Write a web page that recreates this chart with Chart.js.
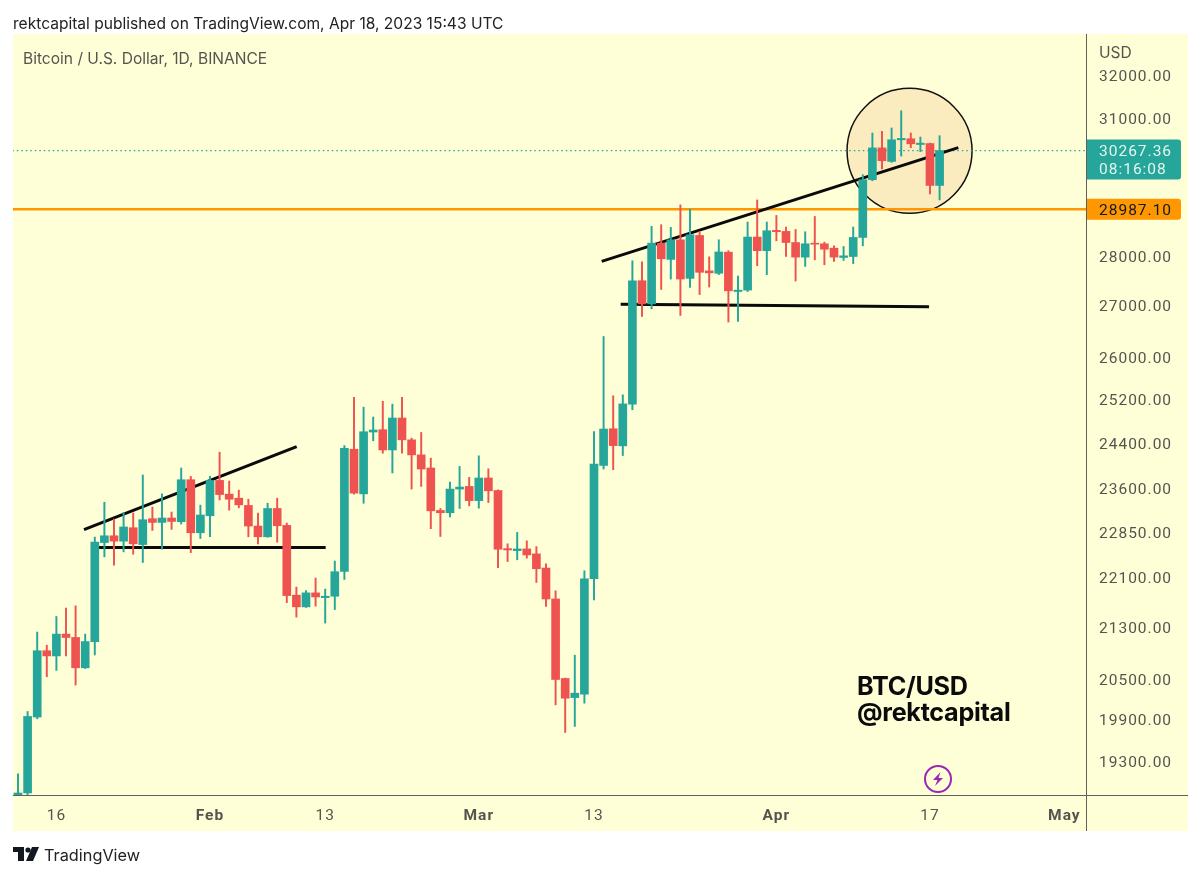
<!DOCTYPE html>
<html>
<head>
<meta charset="utf-8">
<title>BTC/USD</title>
<script src="https://cdn.jsdelivr.net/npm/chart.js@4"></script>
<style>
  html, body { margin: 0; padding: 0; background: #fff; width: 1200px; height: 877px; overflow: hidden; }
  body { font-family: Inter, "Liberation Sans", sans-serif; color: #131722; position: relative; }
  #frame { position: absolute; left: 13px; top: 34px; width: 1175px; height: 797px; background: #fefed7; }
  #mainChart { position: absolute; left: 0; top: 0; }
  .txt { position: absolute; white-space: nowrap; }
  #published { left: 13px; top: 14px; font-size: 15.55px; color: #222; }
  #symbol { left: 23px; top: 49px; font-size: 15.55px; color: #55554f; }
  #currency { left: 1099px; top: 43px; font-size: 15.55px; color: #55554f; }
  #watermark { left: 857px; top: 673px; font-size: 25.2px; line-height: 26px; font-weight: 700; color: #0b0b0b; letter-spacing: -0.3px; }
  #brand { left: 44px; top: 845px; font-size: 16.3px; color: #222; }
  #logo { position: absolute; left: 13px; top: 847px; }
  #bolt { position: absolute; left: 923px; top: 764px; }
  .rule { position: absolute; background: #5f5f5b; }
</style>
</head>
<body>
<div id="frame"></div>
<canvas id="mainChart" width="1200" height="877"></canvas>
<div class="rule" style="left:1086px;top:34px;width:1px;height:797px"></div>
<div class="rule" style="left:13px;top:795px;width:1175px;height:1px"></div>
<div class="txt" id="published">rektcapital published on TradingView.com, Apr 18, 2023 15:43 UTC</div>
<div class="txt" id="symbol">Bitcoin / U.S. Dollar, 1D, BINANCE</div>
<div class="txt" id="currency">USD</div>
<div class="txt" id="watermark">BTC/USD<br>@rektcapital</div>
<svg id="logo" width="26" height="14" viewBox="0 0 26 14">
  <path d="M0 0h11v14H5V5H0z M13 14l6-14h7l-6 14z" fill="#131722"/>
  <circle cx="15" cy="3" r="2.6" fill="#131722"/>
</svg>
<div class="txt" id="brand">TradingView</div>
<svg id="bolt" width="30" height="30" viewBox="0 0 30 30">
  <circle cx="15" cy="15" r="13" fill="none" stroke="#9c27b0" stroke-width="2"/>
  <path d="M17.5 8L10 16h4.5l-2.5 6L20 14h-4.5z" fill="#9c27b0"/>
</svg>
<script>
const openPrices = [
  17943, 18850, 19935, 20934, 20854, 21192, 21140, 20672, 21076, 22672,
  22785, 22695, 22921, 22638, 23073, 23010, 23085, 23022, 23746, 22836,
  23124, 23734, 23495, 23425, 23300, 22949, 22768, 23248, 22960, 21809,
  21622, 21846, 21770, 21792, 22194, 24286, 23500, 24596, 24638, 24273,
  24851, 24455, 24185, 23952, 23214, 23175, 23583, 23629, 23383, 23776,
  23558, 22570, 22537, 22565, 22483, 22249, 21748, 20510, 20223, 20274,
  22075, 23997, 24655, 24346, 25105, 27498, 27032, 28270, 27933, 28340,
  27545, 28431, 27698, 27649, 28082, 27280, 27308, 28397, 28114, 28537,
  28516, 28283, 27980, 28270, 28256, 28165, 27973, 27993, 28389, 29623,
  30326, 30025, 30508, 30531, 30402, 30424, 29498,
];
const closePrices = [
  18850, 19944, 20934, 20854, 21192, 21139, 20672, 21076, 22678, 22785,
  22695, 22933, 22650, 23056, 23010, 23085, 23027, 23746, 22836, 23136,
  23734, 23488, 23407, 23310, 22949, 22768, 23248, 22954, 21802, 21622,
  21846, 21781, 21792, 22189, 24304, 23513, 24601, 24632, 24273, 24851,
  24455, 24185, 23934, 23208, 23175, 23583, 23618, 23383, 23776, 23553,
  22560, 22548, 22565, 22466, 22238, 21748, 20495, 20214, 20289, 22075,
  24022, 24650, 24351, 25111, 27498, 27032, 28270, 27946, 28340, 27532,
  28446, 27669, 27657, 28087, 27294, 27308, 28397, 28114, 28530, 28509,
  28283, 27980, 28256, 28249, 28144, 27980, 28007, 28389, 29623, 30326,
  30040, 30508, 30538, 30417, 30433, 29498, 30267,
];
const highPrices = [
  19119, 20017, 21224, 21019, 21469, 21601, 21638, 21192, 22763, 23356,
  23068, 23180, 23170, 23829, 23272, 23500, 23187, 23952, 23804, 23305,
  23804, 24233, 23723, 23565, 23407, 23170, 23338, 23425, 23000, 21939,
  21884, 22086, 21907, 22364, 24351, 25235, 25051, 24869, 25160, 25106,
  25235, 24486, 24588, 24127, 23248, 23706, 23980, 23787, 24168, 23939,
  23571, 22650, 22841, 22700, 22604, 22320, 21879, 20516, 20865, 22205,
  24606, 26390, 25260, 25279, 27905, 27885, 28621, 28657, 28600, 29079,
  28988, 28516, 27986, 28340, 28114, 27593, 28714, 29185, 28714, 28853,
  28608, 28557, 28509, 28832, 28292, 28213, 28199, 28608, 29733, 30661,
  30697, 30775, 31168, 30661, 30570, 30433, 30599,
];
const lowPrices = [
  17900, 18720, 19910, 20536, 20632, 20854, 20411, 20660, 20869, 22434,
  22298, 22516, 22478, 22341, 22875, 22560, 22892, 22983, 22504, 22739,
  22768, 23395, 23220, 23259, 22768, 22650, 22760, 22678, 21690, 21459,
  21611, 21633, 21365, 21579, 22063, 23495, 23338, 24437, 24215, 23864,
  24215, 23583, 23629, 22904, 22773, 23102, 23248, 23293, 23254, 23350,
  22254, 22357, 22385, 22412, 22014, 21627, 20115, 19710, 19798, 20140,
  21732, 23934, 23922, 24173, 25002, 26784, 26934, 27321, 27532, 26803,
  27362, 27219, 27370, 27622, 26673, 26686, 27280, 27803, 27620, 28319,
  27993, 27492, 27789, 27925, 27824, 27892, 27912, 27847, 28213, 29601,
  29858, 30003, 30143, 30331, 30244, 29316, 29185,
];

const priceTicks = [32000, 31000, 28000, 27000, 26000, 25200, 24400, 23600, 22850, 22100, 21300, 20500, 19900, 19300];
const dayTicks = [4, 20, 32, 48, 60, 79, 95, 109];
const dayTickLabels = ["16", "Feb", "13", "Mar", "13", "Apr", "17", "May"];
const monthLabels = ["Feb", "Mar", "Apr", "May"];

const lastPrice = 30267.36;
const lastCountdown = "08:16:08";
const levelPrice = 28987.10;

const upperTrendLeft = [{ x: 6.875, y: 22887 }, { x: 29.03, y: 24333 }];
const lowerTrendLeft = [{ x: 8.36, y: 22587 }, { x: 32.05, y: 22587 }];
const upperTrendRight = [{ x: 60.8, y: 27892 }, { x: 97.95, y: 30332 }];
const lowerTrendRight = [{ x: 62.78, y: 27026 }, { x: 94.9, y: 26973 }];
const circleCentre = [{ x: 92.87, y: 30260 }];

const UP = "#26a69a";
const DOWN = "#ef5350";
const AXIS_TEXT = "#55554f";
const AXIS_FONT = "Roboto";

const candleColor = (i) => (closePrices[i] >= openPrices[i] ? UP : DOWN);

const wicks = openPrices.map((_, i) => ({ x: i, y: [lowPrices[i], highPrices[i]] }));
const bodies = openPrices.map((o, i) => ({ x: i, y: [o, closePrices[i]] }));

function lineSet(data, color, width, order, dash) {
  return {
    type: "line",
    data,
    borderColor: color,
    borderWidth: width,
    borderDash: dash || [],
    pointRadius: 0,
    order,
  };
}

// price tags on the axis, placed with the chart's own scale
const priceTags = {
  id: "priceTags",
  beforeDraw(chart) {
    chart.ctx.letterSpacing = "1px";
  },
  afterDraw(chart) {
    const { ctx } = chart;
    const y = chart.scales.y;
    const x0 = y.left;
    const w = 95;
    ctx.save();
    ctx.textBaseline = "middle";
    ctx.textAlign = "left";
    ctx.font = `15.5px ${AXIS_FONT}`;

    const tagY = y.getPixelForValue(lastPrice);
    ctx.fillStyle = UP;
    ctx.beginPath();
    ctx.roundRect(x0, tagY - 11, w, 40, [0, 3, 3, 0]);
    ctx.fill();
    ctx.fillStyle = "#e3f5ee";
    ctx.fillText(lastPrice.toFixed(2), x0 + 13, tagY + 2);
    ctx.fillText(lastCountdown, x0 + 13, tagY + 20);

    const lvlY = y.getPixelForValue(levelPrice);
    ctx.fillStyle = "#ff9800";
    ctx.beginPath();
    ctx.roundRect(x0, lvlY - 10.5, w, 21, [0, 3, 3, 0]);
    ctx.fill();
    ctx.fillStyle = "#131722";
    ctx.fillText(levelPrice.toFixed(2), x0 + 13, lvlY + 1.5);
    ctx.restore();
  },
};

const chart = new Chart(document.getElementById("mainChart"), {
  type: "bar",
  data: {
    datasets: [
      {
        type: "scatter",
        data: circleCentre,
        pointRadius: 62.5,
        pointHoverRadius: 62.5,
        pointBackgroundColor: "rgba(238, 182, 115, 0.25)",
        pointBorderColor: "#111",
        pointBorderWidth: 1.5,
        order: 9,
        clip: false,
      },
      lineSet([{ x: -2, y: lastPrice }, { x: 113, y: lastPrice }], UP, 1.2, 8, [1.5, 3]),
      lineSet([{ x: -2, y: levelPrice }, { x: 113, y: levelPrice }], "#ff9800", 2.5, 7),
      lineSet(upperTrendLeft, "#0a0a0a", 3, 3),
      lineSet(lowerTrendLeft, "#0a0a0a", 3, 3),
      lineSet(upperTrendRight, "#0a0a0a", 3, 3),
      lineSet(lowerTrendRight, "#0a0a0a", 3, 3),
      {
        data: wicks,
        backgroundColor: openPrices.map((_, i) => candleColor(i)),
        barThickness: 1.3,
        order: 2,
      },
      {
        data: bodies,
        backgroundColor: openPrices.map((_, i) => candleColor(i)),
        barThickness: 8,
        order: 1,
      },
    ],
  },
  options: {
    responsive: false,
    animation: false,
    events: [],
    layout: { autoPadding: false, padding: { left: 13, top: 34, right: 12, bottom: 46 } },
    plugins: { legend: { display: false }, tooltip: { enabled: false } },
    datasets: { bar: { grouped: false } },
    scales: {
      x: {
        type: "linear",
        min: -0.52,
        max: 111.25,
        offset: false,
        grid: { display: false, drawTicks: false },
        border: { display: false },
        afterBuildTicks: (scale) => {
          scale.ticks = dayTicks.map((value) => ({ value }));
        },
        afterFit: (scale) => {
          scale.height = 36;
        },
        ticks: {
          autoSkip: false,
          maxRotation: 0,
          padding: 12,
          color: AXIS_TEXT,
          font: (ctx) => ({
            family: AXIS_FONT,
            size: 15.5,
            weight: monthLabels.includes(ctx.tick && dayTickLabels[dayTicks.indexOf(ctx.tick.value)]) ? "700" : "400",
          }),
          callback: (value) => dayTickLabels[dayTicks.indexOf(value)],
        },
      },
      y: {
        type: "logarithmic",
        position: "right",
        min: 18822,
        max: 32982,
        grid: { display: false, drawTicks: false },
        border: { display: false },
        afterBuildTicks: (scale) => {
          scale.ticks = priceTicks.map((value) => ({ value }));
        },
        afterFit: (scale) => {
          scale.width = 102;
        },
        ticks: {
          autoSkip: false,
          padding: 13,
          labelOffset: 2,
          color: AXIS_TEXT,
          font: { family: AXIS_FONT, size: 15.5 },
          callback: (value) => Number(value).toFixed(2),
        },
      },
    },
  },
  plugins: [priceTags],
});
</script>
</body>
</html>
